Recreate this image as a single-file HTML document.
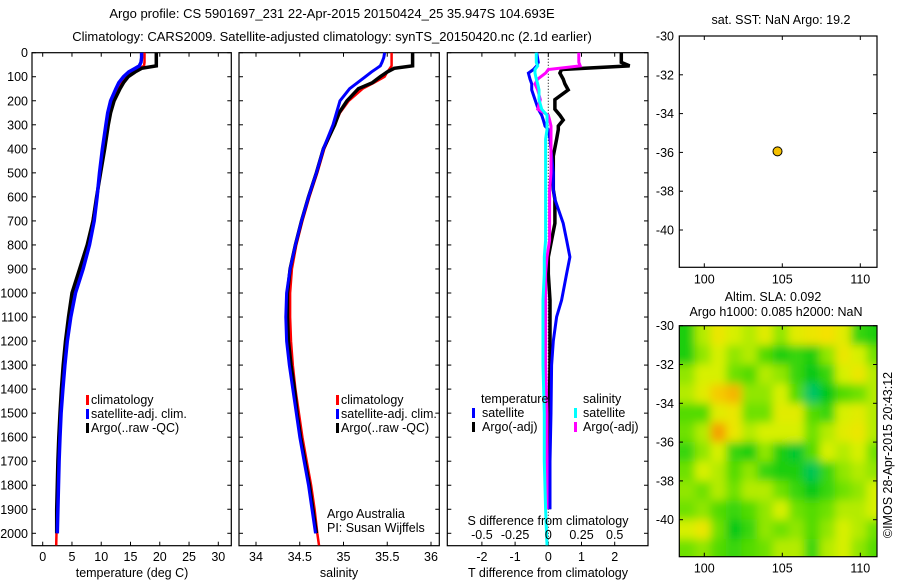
<!DOCTYPE html>
<html><head><meta charset="utf-8">
<style>
html,body{margin:0;padding:0;background:#fff;}
svg{display:block;font-family:"Liberation Sans",sans-serif;}
text{font-size:12.5px;fill:#000;}
</style></head>
<body>
<svg id="fig" width="900" height="580" viewBox="0 0 900 580" xmlns="http://www.w3.org/2000/svg">
<defs>
<filter id="blur" x="-5%" y="-5%" width="110%" height="110%"><feGaussianBlur stdDeviation="4.5"/></filter>
<clipPath id="mapclip"><rect x="679.3" y="325.7" width="197.7" height="231"/></clipPath>
</defs>
<text x="332" y="18" text-anchor="middle" style="font-size:13px">Argo profile: CS 5901697_231 22-Apr-2015 20150424_25 35.947S 104.693E</text>
<text x="332" y="41" text-anchor="middle" style="font-size:13px">Climatology: CARS2009. Satellite-adjusted climatology: synTS_20150420.nc (2.1d earlier)</text>
<g id="g"></g>
</svg>
<script>
// ---------- data ----------
const depths = [0,20,40,55,65,80,100,125,150,200,250,300,400,500,600,700,800,900,1000,1100,1200,1300,1400,1500,1600,1700,1800,1900,2000,2050];
const tempArgo = [19.4,19.4,19.4,19.4,16.9,15.8,14.6,13.8,13.2,12.2,11.6,11.2,10.6,9.9,9.2,8.6,7.6,6.3,5.0,4.4,3.9,3.5,3.2,2.95,2.75,2.6,2.5,2.4,2.4,null];
const tempClim = [17.4,17.4,17.4,17.3,16.5,15.3,14.2,13.4,12.9,11.9,11.4,11.0,10.4,9.8,9.2,8.5,7.7,6.5,5.2,4.5,4.0,3.6,3.3,3.0,2.8,2.65,2.5,2.4,2.35,2.3];
const tempSat = [16.9,16.9,16.8,16.5,15.8,14.7,13.8,13.0,12.5,11.6,11.1,10.8,10.2,9.7,9.3,8.8,8.0,6.9,5.6,4.8,4.2,3.8,3.45,3.15,2.95,2.8,2.7,2.6,2.5,null];
const salArgo = [35.79,35.79,35.79,35.79,35.58,35.5,35.42,35.33,35.17,35.04,34.95,34.9,34.77,34.69,34.60,34.52,34.45,34.39,34.36,34.36,34.37,34.40,34.44,34.47,34.51,34.56,34.61,34.65,34.69,null];
const salClim = [35.55,35.55,35.55,35.55,35.53,35.5,35.47,35.35,35.22,35.06,34.96,34.9,34.78,34.7,34.61,34.53,34.46,34.41,34.39,34.39,34.4,34.42,34.45,34.49,34.53,34.58,34.63,34.67,34.7,34.72];
const salSat = [35.47,35.46,35.44,35.42,35.38,35.32,35.25,35.16,35.07,34.96,34.92,34.88,34.77,34.69,34.6,34.52,34.45,34.39,34.35,34.34,34.35,34.38,34.42,34.46,34.5,34.55,34.6,34.64,34.68,null];

const diffDepths = [0,40,55,70,85,110,130,155,195,235,260,280,305,320,360,430,500,570,610,710,780,850,920,1030,1100,1200,1300,1500,1700,1900,2050];
const tDiffArgo = [2.2,2.2,2.45,0.4,0.35,0.45,0.5,0.6,0.2,0.2,0.35,0.45,0.3,0.3,0.25,0.15,0.15,0.15,0.2,0.2,0.1,0.0,0.0,0.05,0.05,0.05,0.05,0.03,0.02,0.02,null];
const tDiffSat = [-0.35,-0.3,-0.35,-0.45,-0.6,-0.55,-0.5,-0.5,-0.4,-0.3,-0.2,-0.15,-0.1,0,0.05,0.1,0.15,0.15,0.2,0.45,0.55,0.65,0.55,0.4,0.25,0.15,0.1,0.08,0.05,0.05,null];
const sDiffArgo = [0.23,0.23,0.24,0.0,-0.02,-0.08,-0.1,-0.08,-0.06,-0.08,0.0,0.01,0.02,0.02,0.02,0.02,0.02,0.01,0.01,0.01,0.01,-0.01,-0.02,-0.02,-0.02,-0.02,-0.02,-0.01,-0.01,-0.01,null];
const sDiffSat = [-0.09,-0.09,-0.08,-0.1,-0.1,-0.09,-0.08,-0.07,-0.07,-0.05,-0.01,-0.01,-0.01,-0.01,-0.02,-0.02,-0.02,-0.02,-0.02,-0.02,-0.02,-0.03,-0.03,-0.04,-0.04,-0.04,-0.04,-0.03,-0.03,-0.02,-0.01];

const depthTicks = [0,100,200,300,400,500,600,700,800,900,1000,1100,1200,1300,1400,1500,1600,1700,1800,1900,2000];
const tempTicks = [0,5,10,15,20,25,30];
const salTicks = [34,34.5,35,35.5,36];
const tDiffTicks = [-2,-1,0,1,2];
const sDiffTicks = [-0.5,-0.25,0,0.25,0.5];
const sDiffTickLabels = ["-0.5","-0.25","0","0.25","0.5"];
const latTicks = [-30,-32,-34,-36,-38,-40];
const lonTicks = [100,105,110];
const floatLon = [104.693];
const floatLat = [-35.947];
const slaLats = [-30.5,-31.5,-32.5,-33.5,-34.5,-35.5,-36.5,-37.5,-38.5,-39.5,-40.5,-41.5];
const slaLons = [98.9,99.9,100.9,101.9,102.9,103.9,104.9,105.9,106.9,107.9,108.9,109.9,110.9];
const slaGrid = [
[0.3,0.55,0.7,0.6,0.55,0.65,0.5,0.65,0.7,0.75,0.65,0.35,0.3],
[0.3,0.5,0.6,0.5,0.55,0.4,0.3,0.35,0.3,0.5,0.7,0.6,0.45],
[0.5,0.6,0.6,0.45,0.4,0.55,0.5,0.35,0.25,0.35,0.6,0.7,0.55],
[0.55,0.65,0.8,0.85,0.5,0.5,0.6,0.4,0.12,0.25,0.4,0.45,0.55],
[0.4,0.4,0.65,0.7,0.45,0.45,0.65,0.65,0.4,0.35,0.6,0.65,0.55],
[0.45,0.55,0.9,0.7,0.55,0.6,0.6,0.6,0.45,0.55,0.65,0.7,0.55],
[0.35,0.5,0.6,0.35,0.3,0.5,0.3,0.2,0.4,0.6,0.55,0.6,0.45],
[0.45,0.6,0.55,0.4,0.5,0.35,0.3,0.3,0.15,0.35,0.5,0.55,0.5],
[0.5,0.45,0.55,0.45,0.55,0.55,0.45,0.35,0.25,0.35,0.45,0.5,0.6],
[0.45,0.5,0.4,0.35,0.4,0.5,0.6,0.45,0.4,0.45,0.55,0.55,0.6],
[0.6,0.7,0.45,0.25,0.35,0.5,0.45,0.5,0.4,0.5,0.6,0.55,0.45],
[0.45,0.5,0.4,0.35,0.4,0.45,0.55,0.55,0.35,0.55,0.6,0.5,0.4]
];

// ---------- helpers ----------
const NS = "http://www.w3.org/2000/svg";
const G = document.getElementById('g');
function mk(tag, attrs, parent){ const e=document.createElementNS(NS,tag); for(const k in attrs) e.setAttribute(k,attrs[k]); (parent||G).appendChild(e); return e; }
function lin(d0,d1,r0,r1){ return v => r0 + (v-d0)*(r1-r0)/(d1-d0); }

const TOP=52.7, BOT=545.7;
const yDepth = lin(0,2000,52.7,533.3);
const panels = [
  {name:'temperature-panel', x0:32, x1:231.3},
  {name:'salinity-panel', x0:239, x1:439.3},
  {name:'difference-panel', x0:447.3, x1:648}
];
const xTemp = lin(0,30,42.7,218.3);
const xSal = lin(34,36,256,431);
const xTD = lin(0,2,548.3,614.7);
const xSD = v => xTD(v*4);

function frame(p, xticks, xfun){
  const r = mk('rect',{x:p.x0,y:TOP,width:p.x1-p.x0,height:BOT-TOP,fill:'none',stroke:'#000','stroke-width':1.2});
  
  
  depthTicks.forEach(d=>{
    const y=yDepth(d);
    const t1=mk('line',{x1:p.x0,x2:p.x0+4,y1:y,y2:y,stroke:'#000'});
    
    
    const t2=mk('line',{x1:p.x1-4,x2:p.x1,y1:y,y2:y,stroke:'#000'});
    
    
  });
  xticks.forEach(v=>{
    const x=xfun(v);
    const a=mk('line',{x1:x,x2:x,y1:BOT,y2:BOT-4,stroke:'#000'});
    
    
    const b=mk('line',{x1:x,x2:x,y1:TOP,y2:TOP+4,stroke:'#000'});
    
    
    const t=mk('text',{x:x,y:561,'text-anchor':'middle'}); t.textContent=String(v);
    
    
  });
}
function series(vals, ds, xf, color, w, name){
  let segs=[], cur=[];
  vals.forEach((v,i)=>{ if(v===null){ if(cur.length) segs.push(cur); cur=[]; } else cur.push(xf(v).toFixed(1)+','+yDepth(ds[i]).toFixed(1)); });
  if(cur.length) segs.push(cur);
  segs.forEach(s=>{
    const pl=mk('polyline',{points:s.join(' '),fill:'none',stroke:color,'stroke-width':w,'stroke-linejoin':'miter'});
    
    
  });
}
function txt(s,x,y,anchor,name,extra){
  const t=mk('text',Object.assign({x:x,y:y,'text-anchor':anchor||'start'},extra||{})); t.textContent=s;
  
  
  return t;
}
function legendMark(x,y,color){
  const r=mk('rect',{x:x,y:y-9,width:3,height:10,fill:color});
  
  
}

depthTicks.forEach(d=>{ txt(String(d),28,yDepth(d)+4.5,'end','depth-tick-label'); });

frame(panels[0], tempTicks, xTemp);
series(tempClim, depths, xTemp, '#ff0000', 2.5, 'temp-climatology-line');
series(tempArgo, depths, xTemp, '#000000', 3.5, 'temp-argo-line');
series(tempSat, depths, xTemp, '#0000ff', 3.5, 'temp-satellite-line');
txt('temperature (deg C)',132,577,'middle','temperature-axis-title');
legendMark(86,404,'#ff0000'); txt('climatology',91,404,'start','legend-climatology');
legendMark(86,418,'#0000ff'); txt('satellite-adj. clim.',91,418,'start','legend-satellite');
legendMark(86,432,'#000000'); txt('Argo(..raw -QC)',91,432,'start','legend-argo');

frame(panels[1], salTicks, xSal);
series(salClim, depths, xSal, '#ff0000', 2.5, 'sal-climatology-line');
series(salArgo, depths, xSal, '#000000', 3.5, 'sal-argo-line');
series(salSat, depths, xSal, '#0000ff', 3, 'sal-satellite-line');
txt('salinity',339,577,'middle','salinity-axis-title');
legendMark(336,404,'#ff0000'); txt('climatology',341,404,'start','legend-climatology');
legendMark(336,418,'#0000ff'); txt('satellite-adj. clim.',341,418,'start','legend-satellite');
legendMark(336,432,'#000000'); txt('Argo(..raw -QC)',341,432,'start','legend-argo');
txt('Argo Australia',327,518,'start','credit-argo-australia');
txt('PI: Susan Wijffels',327,532,'start','credit-pi');

frame(panels[2], tDiffTicks, xTD);
const zl=mk('line',{x1:xTD(0),x2:xTD(0),y1:TOP,y2:BOT,stroke:'#000','stroke-dasharray':'1,2'});


series(tDiffArgo, diffDepths, xTD, '#000000', 3.5, 'tdiff-argo-line');
series(tDiffSat, diffDepths, xTD, '#0000ff', 3, 'tdiff-satellite-line');
series(sDiffArgo, diffDepths, xSD, '#ff00ff', 3, 'sdiff-argo-line');
series(sDiffSat, diffDepths, xSD, '#00ffff', 3, 'sdiff-satellite-line');
txt('temperature',481,403,'start','legend-temperature-header');
txt('salinity',583,403,'start','legend-salinity-header');
legendMark(472,417,'#0000ff'); txt('satellite',482,417,'start','legend-t-satellite');
legendMark(472,431,'#000000'); txt('Argo(-adj)',482,431,'start','legend-t-argo');
legendMark(574,417,'#00ffff'); txt('satellite',583,417,'start','legend-s-satellite');
legendMark(574,431,'#ff00ff'); txt('Argo(-adj)',583,431,'start','legend-s-argo');
txt('S difference from climatology',548,525,'middle','s-axis-title');
sDiffTicks.forEach((v,i)=>{ txt(sDiffTickLabels[i],xSD(v),539,'middle','s-tick-label'); });
txt('T difference from climatology',548,577,'middle','t-axis-title');

const mX = lin(100,110,704.3,860.3);
const m1Y = lin(-30,-40,36,230);
const m2Y = lin(-30,-40,325.7,519.7);
function mapFrame(y0,y1,yf,name){
  const r=mk('rect',{x:679.3,y:y0,width:197.7,height:y1-y0,fill:'none',stroke:'#000','stroke-width':1.2});
  
  
  latTicks.forEach(v=>{
    const y=yf(v);
    const a=mk('line',{x1:679.3,x2:683,y1:y,y2:y,stroke:'#000'});
    
    
    const b=mk('line',{x1:873,x2:877,y1:y,y2:y,stroke:'#000'});
    
    
    txt(String(v),674,y+4.5,'end','lat-tick-label');
  });
  lonTicks.forEach(v=>{
    const x=mX(v);
    const a=mk('line',{x1:x,x2:x,y1:y1,y2:y1-4,stroke:'#000'});
    
    
    const b=mk('line',{x1:x,x2:x,y1:y0,y2:y0+4,stroke:'#000'});
    
    
    txt(String(v),x,y1+16,'middle','lon-tick-label');
  });
}
txt('sat. SST: NaN Argo: 19.2',781,24,'middle','sst-map-title');
mapFrame(36,267.3,m1Y,'sst-map-frame');
floatLon.forEach((lo,i)=>{
  const c=mk('circle',{cx:mX(lo),cy:m1Y(floatLat[i]),r:4.5,fill:'#f5c000',stroke:'#000','stroke-width':1});
  
  
});

txt('Altim. SLA: 0.092',773,301,'middle','sla-map-title');
txt('Argo h1000: 0.085 h2000: NaN',776,316,'middle','sla-map-subtitle');
function cmap(v){
  const stops=[[0,[0,195,175]],[0.25,[0,200,20]],[0.45,[110,225,0]],[0.6,[215,240,0]],[0.75,[245,225,0]],[0.9,[245,160,0]],[1,[245,130,0]]];
  for(let i=1;i<stops.length;i++){ if(v<=stops[i][0]){ const a=stops[i-1],b=stops[i]; const t=(v-a[0])/(b[0]-a[0]); return 'rgb('+a[1].map((c,j)=>Math.round(c+(b[1][j]-c)*t)).join(',')+')'; } }
  return 'rgb(245,130,0)';
}
const clipG=mk('g',{'clip-path':'url(#mapclip)'});


const blurG=mk('g',{filter:'url(#blur)'},clipG);
const cw = mX(1)-mX(0), ch = m2Y(-31)-m2Y(-30);
slaGrid.forEach((row,r)=>{ row.forEach((v,c)=>{
  const lo=slaLons[c], la=slaLats[r];
  let x=mX(lo)-cw/2, y=m2Y(la)-ch/2, w=cw, h=ch;
  if(c===0){x-=20;w+=20;} if(c===row.length-1){w+=20;}
  if(r===0){y-=20;h+=20;} if(r===slaGrid.length-1){h+=20;}
  const cell=mk('rect',{x:x.toFixed(1),y:y.toFixed(1),width:(w+0.6).toFixed(1),height:(h+0.6).toFixed(1),fill:cmap(v)},blurG);
  
  
});});
mapFrame(325.7,556.7,m2Y,'sla-map-frame');
txt('©IMOS 28-Apr-2015 20:43:12',0,0,'middle','imos-credit',{transform:'translate(892,455) rotate(-90)'});
</script>
</body></html>
